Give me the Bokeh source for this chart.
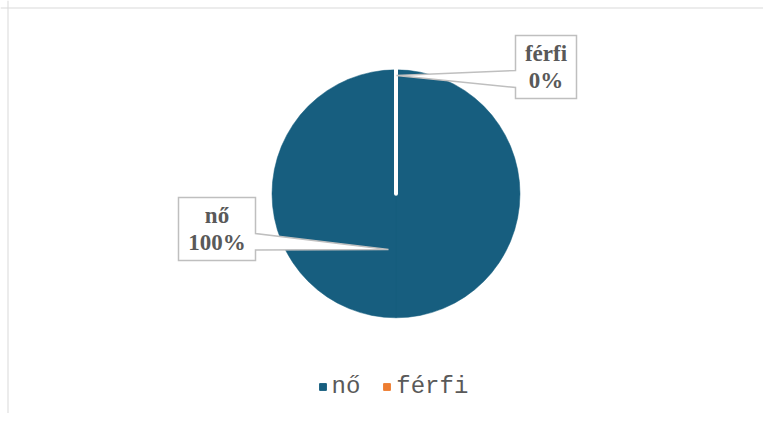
import numpy as np
from bokeh.plotting import figure
from bokeh.models import Range1d, Span, Legend, LegendItem, ColumnDataSource
from bokeh.core.properties import value
from bokeh.embed import file_html
from bokeh.resources import INLINE

# ---- data ----
categories = ["nő", "férfi"]
values = [100, 0]
colors = ["#175e7f", "#ed7d31"]

# ---- layout (page pixels; the figure is drawn at the page origin) ----
W, H = 763, 413


def Y(py):
    return H - py


cx, cy = 395.5, 193.3
radius = 124

p = figure(width=W, height=H, output_backend="svg", toolbar_location=None,
           x_range=Range1d(0, W), y_range=Range1d(0, H),
           x_axis_location=None, y_axis_location=None, min_border=0)
p.grid.visible = False
p.outline_line_color = None
p.background_fill_color = "white"
p.border_fill_color = "white"

# chart-area border (top and left visible in the reference)
p.add_layout(Span(location=Y(7.5), dimension="width", line_color="#d9d9d9", line_width=1))
p.add_layout(Span(location=7.5, dimension="height", line_color="#d9d9d9", line_width=1))

# ---- pie ----
vals = np.array(values, dtype=float)
frac = vals / vals.sum()
cum = np.concatenate([[0.0], np.cumsum(frac)])
start = np.pi / 2 - 2 * np.pi * cum[:-1]
end = np.pi / 2 - 2 * np.pi * cum[1:]

# split every slice into pieces of at most half a turn (SVG cannot draw a full-turn arc)
wx, wy, ws, we, wc = [], [], [], [], []
for s, e, c in zip(start, end, colors):
    span = s - e
    if span <= 0:
        continue
    n = int(np.ceil(span / np.pi))
    edges = np.linspace(s, e, n + 1)
    for a, b in zip(edges[:-1], edges[1:]):
        wx.append(cx); wy.append(Y(cy)); ws.append(a); we.append(b); wc.append(c)
p.wedge(x=wx, y=wy, radius=radius, radius_units="screen",
        start_angle=ws, end_angle=we, direction="clock",
        fill_color=wc, line_color=wc, line_width=0.5)

# white slice borders along every slice boundary
bounds = np.unique(np.round(np.mod(start, 2 * np.pi), 9))
p.ray(x=[cx] * len(bounds), y=[Y(cy)] * len(bounds), length=radius + 2,
      length_units="screen", angle=bounds, line_color="white", line_width=4,
      line_cap="round")

# ---- data label callouts ----
boxes = [
    dict(l=178, t=197, r=255, b=260, side="r", p1=233, p2=249.5, tip=(388, 249)),
    dict(l=515, t=35, r=576, b=98, side="l", p1=70, p2=87, tip=(396, 75)),
]
xs, ys, tx, ty, texts = [], [], [], [], []
for cat, v, bx in zip(categories, frac, boxes):
    l, t, r, b = bx["l"], bx["t"], bx["r"], bx["b"]
    if bx["side"] == "r":
        pts = [(l, t), (r, t), (r, bx["p1"]), bx["tip"], (r, bx["p2"]), (r, b), (l, b)]
    else:
        pts = [(l, t), (r, t), (r, b), (l, b), (l, bx["p2"]), bx["tip"], (l, bx["p1"])]
    xs.append([q[0] for q in pts])
    ys.append([Y(q[1]) for q in pts])
    tx.append((l + r) / 2)
    ty.append(Y((t + b) / 2))
    texts.append(f"{cat}\n{v * 100:.0f}%")

p.patches(xs, ys, fill_color="white", line_color="#bfbfbf", line_width=1.5,
          line_join="miter")
p.text(x=tx, y=ty, text=texts, text_font=value("Liberation Serif"),
       text_font_style="bold", text_font_size="23px", text_color="#595959",
       text_align="center", text_baseline="middle", text_line_height=1.1)

# ---- legend ----
items = []
for cat, col in zip(categories, colors):
    r = p.scatter(x=[cx], y=[Y(cy)], marker="square", fill_color=col,
                  line_color=col, visible=False)
    items.append(LegendItem(label=cat, renderers=[r]))
legend = Legend(items=items, orientation="horizontal", location=(313.5, 13),
                glyph_width=17, glyph_height=17, label_standoff=1, spacing=18,
                padding=0, margin=0, border_line_color=None,
                background_fill_alpha=0, inactive_fill_alpha=0,
                label_text_font="Liberation Mono", label_text_font_size="24px",
                label_text_color="#595959")
p.add_layout(legend)

open("out.html", "w").write(file_html(p, INLINE))
